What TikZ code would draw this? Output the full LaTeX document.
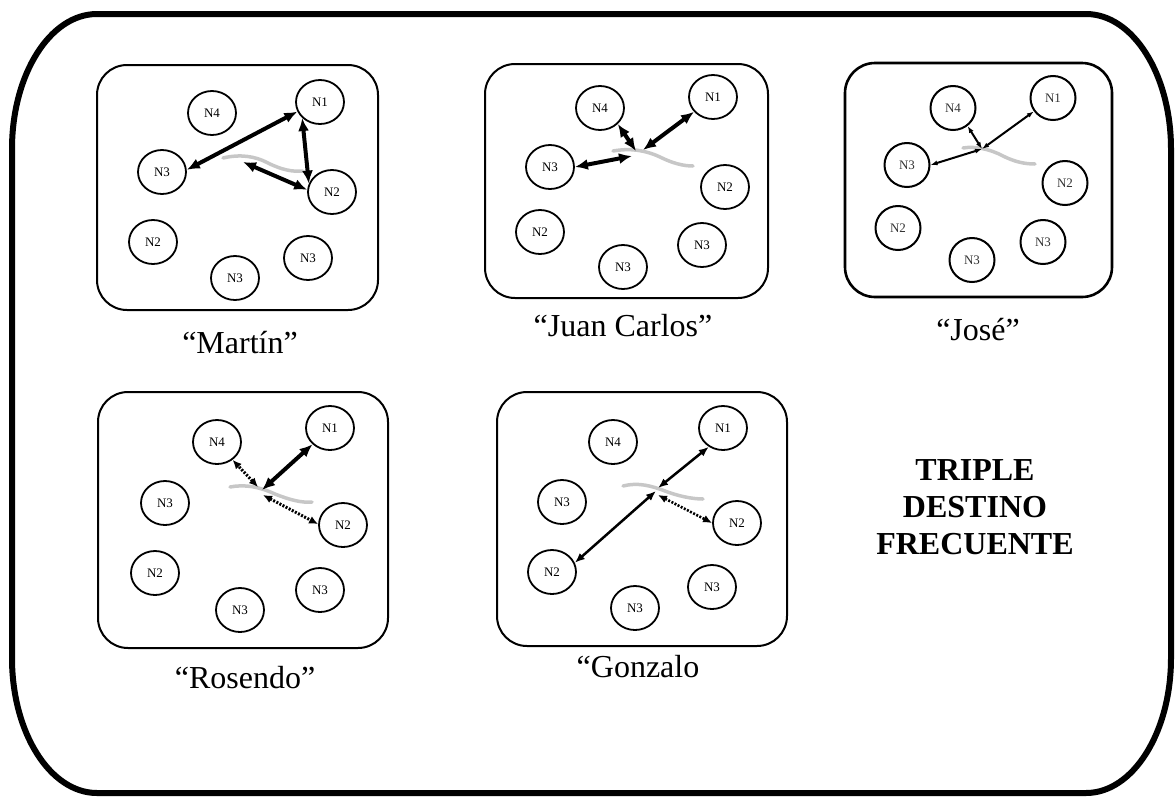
\documentclass[tikz,border=0pt]{standalone}
\usepackage{fontspec}
\setmainfont{Liberation Serif}
\usetikzlibrary{arrows.meta,shapes.geometric}
\begin{document}
\begin{tikzpicture}[x=1pt,y=-1pt,
  nd/.style={ellipse,draw,line width=1.8pt,minimum width=48pt,minimum height=44pt,inner sep=0pt,font=\fontsize{13}{13}\selectfont},
  ndj/.style={nd,minimum width=45pt,minimum height=44pt,line width=2pt,text=black!80},
  panel/.style={draw,line width=2pt,rounded corners=30pt},
  fade/.style={draw=black!22,line width=3.5pt,line cap=round},
  big/.style={line width=4pt,>={Latex[length=13pt,width=11pt]},<->},
  mid/.style={line width=2.5pt,>={Latex[length=10pt,width=8pt]},<->},
  thin/.style={line width=2pt,>={Latex[length=7pt,width=5pt]},<->},
  dots/.style={line width=3pt,dash pattern=on 2pt off 1.5pt,>={Latex[length=9pt,width=8pt]},<->},
  lbl/.style={font=\fontsize{32}{32}\selectfont,anchor=base,inner sep=0pt},
]
\useasboundingbox (0,0) rectangle (1176,796);
% outer frame
\draw[line width=6pt] (97,14) -- (1086,14) .. controls (1133,14) and (1171,74.5) .. (1171,149)
  -- (1171,658) .. controls (1171,732.5) and (1133,793) .. (1086,793)
  -- (97,793) .. controls (50,793) and (12,732.5) .. (12,658)
  -- (12,149) .. controls (12,74.5) and (50,14) .. (97,14) -- cycle;

% ---------- panel 1: Martin
\draw[panel] (97,65) rectangle (378,310);
\node[nd] (a_n4) at (212,113) {N4};
\node[nd] (a_n1) at (320,102) {N1};
\node[nd] (a_n3) at (162,172) {N3};
\node[nd] (a_n2) at (332,192) {N2};
\node[nd] (a_n2b) at (153,242) {N2};
\node[nd] (a_n3b) at (235,278) {N3};
\node[nd] (a_n3c) at (308,258) {N3};
\draw[fade] (223,158) .. controls (240,154) and (255,156) .. (268,163) .. controls (282,170) and (293,172) .. (303,171);
\coordinate (a_h) at (243,162);
\draw[big] (a_n3.5) -- (a_n1.203);
\draw[big] (a_n1.222) -- (a_n2.160);
\draw[big] (a_h) -- (a_n2.175);
\node[lbl] (la) at (240,353) {“Martín”};

% ---------- panel 2: Juan Carlos
\draw[panel] (485,64) rectangle (768,298);
\node[nd] (b_n4) at (600,108) {N4};
\node[nd] (b_n1) at (713,97) {N1};
\node[nd] (b_n3) at (550,167) {N3};
\node[nd] (b_n2) at (725,187) {N2};
\node[nd] (b_n2b) at (540,232) {N2};
\node[nd] (b_n3b) at (623,267) {N3};
\node[nd] (b_n3c) at (702,245) {N3};
\draw[fade] (613,151) .. controls (630,148) and (645,150) .. (660,157) .. controls (672,163) and (683,166) .. (693,166);
\coordinate (b_h1) at (643,150);
\coordinate (b_h4) at (636,151);
\coordinate (b_h3) at (632,156);
\draw[big] (b_h1) -- (b_n1.218);
\draw[big] (b_h4) -- (b_n4.318);
\draw[big] (b_h3) -- (b_n3.0);
\node[lbl] (lb) at (623,336) {“Juan Carlos”};

% ---------- panel 3: Jose
\draw[panel,line width=2.6pt] (845,63) rectangle (1112,297);
\node[ndj] (c_n4) at (953,108) {N4};
\node[ndj] (c_n1) at (1053,98) {N1};
\node[ndj] (c_n3) at (907,165) {N3};
\node[ndj] (c_n2) at (1065,183) {N2};
\node[ndj] (c_n2b) at (898,228) {N2};
\node[ndj] (c_n3b) at (972,260) {N3};
\node[ndj] (c_n3c) at (1043,242) {N3};
\draw[fade] (963,148) .. controls (975,146) and (990,149) .. (1003,156) .. controls (1015,162) and (1025,164) .. (1035,164);
\coordinate (c_h) at (982,149);
\draw[thin] (c_h) -- (c_n4.309);
\draw[thin] (c_h) -- (c_n1.215);
\draw[thin] (c_h) -- (c_n3.0);
\node[lbl] (lc) at (978,340) {“José”};

% ---------- panel 4: Rosendo
\draw[panel] (98,392) rectangle (388,648);
\node[nd] (d_n4) at (217,442) {N4};
\node[nd] (d_n1) at (330,428) {N1};
\node[nd] (d_n3) at (165,503) {N3};
\node[nd] (d_n2) at (343,525) {N2};
\node[nd] (d_n2b) at (155,573) {N2};
\node[nd] (d_n3b) at (240,610) {N3};
\node[nd] (d_n3c) at (320,590) {N3};
\draw[fade] (230,487) .. controls (245,484) and (260,487) .. (275,494) .. controls (290,500) and (302,503) .. (312,502);
\coordinate (d_h1) at (262,490);
\coordinate (d_h4) at (258,487);
\coordinate (d_h2) at (263,495);
\draw[big] (d_h1) -- (d_n1.223);
\draw[dots] (d_h4) -- (d_n4.311);
\draw[dots] (d_h2) -- (d_n2.178);
\node[lbl] (ld) at (245,688) {“Rosendo”};

% ---------- panel 5: Gonzalo
\draw[panel] (497,392) rectangle (787,646);
\node[nd] (e_n4) at (613,442) {N4};
\node[nd] (e_n1) at (723,428) {N1};
\node[nd] (e_n3) at (562,502) {N3};
\node[nd] (e_n2) at (737,523) {N2};
\node[nd] (e_n2b) at (552,572) {N2};
\node[nd] (e_n3b) at (635,608) {N3};
\node[nd] (e_n3c) at (712,587) {N3};
\draw[fade] (623,486) .. controls (638,482) and (652,486) .. (665,491) .. controls (678,496) and (692,499) .. (703,499);
\coordinate (e_h1) at (658,488);
\coordinate (e_h2) at (656,491);
\coordinate (e_h3) at (658,495);
\draw[mid] (e_h1) -- (e_n1.233);
\draw[mid] (e_h2) -- (e_n2b.22);
\draw[dots,line width=2.6pt] (e_h3) -- (e_n2.180);
\node[lbl] (le) at (638,677) {“Gonzalo};

% ---------- title
\node[align=center,inner sep=0pt,font=\bfseries\fontsize{32}{37}\selectfont] (title) at (975,507) {TRIPLE\\DESTINO\\FRECUENTE};
\end{tikzpicture}
\end{document}
